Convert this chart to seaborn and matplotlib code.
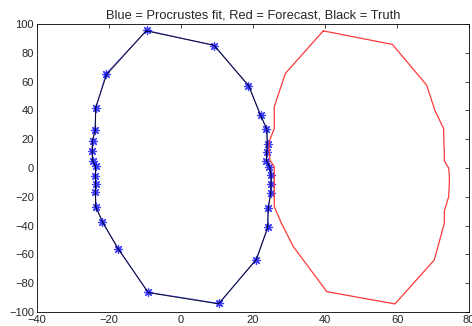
import matplotlib
matplotlib.use("Agg")
import matplotlib.pyplot as plt
import seaborn as sns

# Truth outline (black)
truth_x = [-9.7, 9.1, 18.9, 21.9, 23.9, 23.9, 23.8, 23.8, 24.7, 25.0, 25.0, 24.9, 24.3, 24.0, 21.0, 10.4,
           -9.0, -17.6, -21.6, -23.7, -23.7, -23.7, -23.7, -23.7, -24.6, -24.6, -24.6, -23.7, -23.7, -20.6, -9.7]
truth_y = [95.3, 85.4, 57.0, 37.5, 27.0, 17.0, 11.0, 5.3, 0.5, -5.3, -10.6, -17.6, -27.3, -41.5, -63.4, -94.4,
           -86.6, -55.6, -38.0, -26.9, -17.0, -10.6, -5.0, 1.0, 5.3, 11.3, 19.0, 26.4, 42.0, 65.0, 95.3]

# Procrustes fit (blue stars)
fit_x = [-9.5, 9.3, 18.7, 22.1, 23.7, 24.1, 23.9, 23.7, 24.5, 25.1, 24.9, 25.0, 24.1, 24.2, 20.8, 10.6,
         -9.2, -17.4, -21.8, -23.5, -23.8, -23.6, -23.8, -23.6, -24.4, -24.7, -24.5, -23.9, -23.6, -20.8, -9.5]
fit_y = [95.6, 85.1, 57.3, 37.2, 27.3, 16.8, 11.2, 5.1, 0.8, -5.0, -10.9, -17.3, -27.6, -41.2, -63.7, -94.1,
         -86.3, -55.9, -37.7, -27.2, -16.7, -10.9, -5.3, 1.3, 5.0, 11.6, 18.7, 26.7, 41.7, 65.3, 95.6]

# Forecast outline (red)
red_x = [39.5, 58.7, 68.2, 70.5, 72.9, 73.0, 73.1, 73.1, 74.3, 74.5, 74.5, 74.3, 73.1, 73.1, 70.3, 59.4,
         40.5, 31.2, 27.9, 25.9, 25.9, 25.9, 25.9, 25.9, 24.7, 24.5, 24.5, 25.9, 25.9, 29.0, 39.5]
red_y = [95.3, 85.9, 57.6, 40.0, 27.5, 17.0, 11.0, 5.0, 0.0, -5.0, -10.0, -20.0, -30.0, -38.4, -63.9, -94.4,
         -85.9, -54.6, -38.4, -26.8, -17.0, -10.0, -5.0, 0.9, 5.5, 11.0, 18.3, 27.5, 42.6, 65.8, 95.3]

sns.set_style("white")
plt.rcParams['font.family'] = ['Liberation Sans', 'DejaVu Sans']

fig = plt.figure(figsize=(4.72, 3.26), dpi=100)
ax = fig.add_axes([0.078, 0.043, 0.916, 0.883])

sns.lineplot(x=red_x, y=red_y, sort=False, estimator=None, color='#ff3a3a', lw=0.9, ax=ax)
# fit line under the truth line, stars on top
sns.lineplot(x=fit_x, y=fit_y, sort=False, estimator=None, color='blue', lw=0.8, alpha=0.7, ax=ax)
sns.lineplot(x=truth_x, y=truth_y, sort=False, estimator=None, color='black', lw=0.7, alpha=0.85, ax=ax)
sns.scatterplot(x=fit_x[:-1], y=fit_y[:-1], marker=(8, 2, 0), s=34, color='blue',
                linewidth=0.9, alpha=0.75, ax=ax)

ax.set_xlim(-40, 80)
ax.set_ylim(-100, 100)
ax.set_xticks(range(-40, 81, 20))
ax.set_yticks(range(-100, 101, 20))
ax.tick_params(direction='in', top=True, right=True, length=3, width=0.6, labelsize=8, pad=2)
for s in ax.spines.values():
    s.set_linewidth(0.6)
    s.set_color('black')
ax.set_title('Blue = Procrustes fit, Red = Forecast, Black = Truth', fontsize=9.3, pad=4)

fig.savefig('out.png', dpi=100)
